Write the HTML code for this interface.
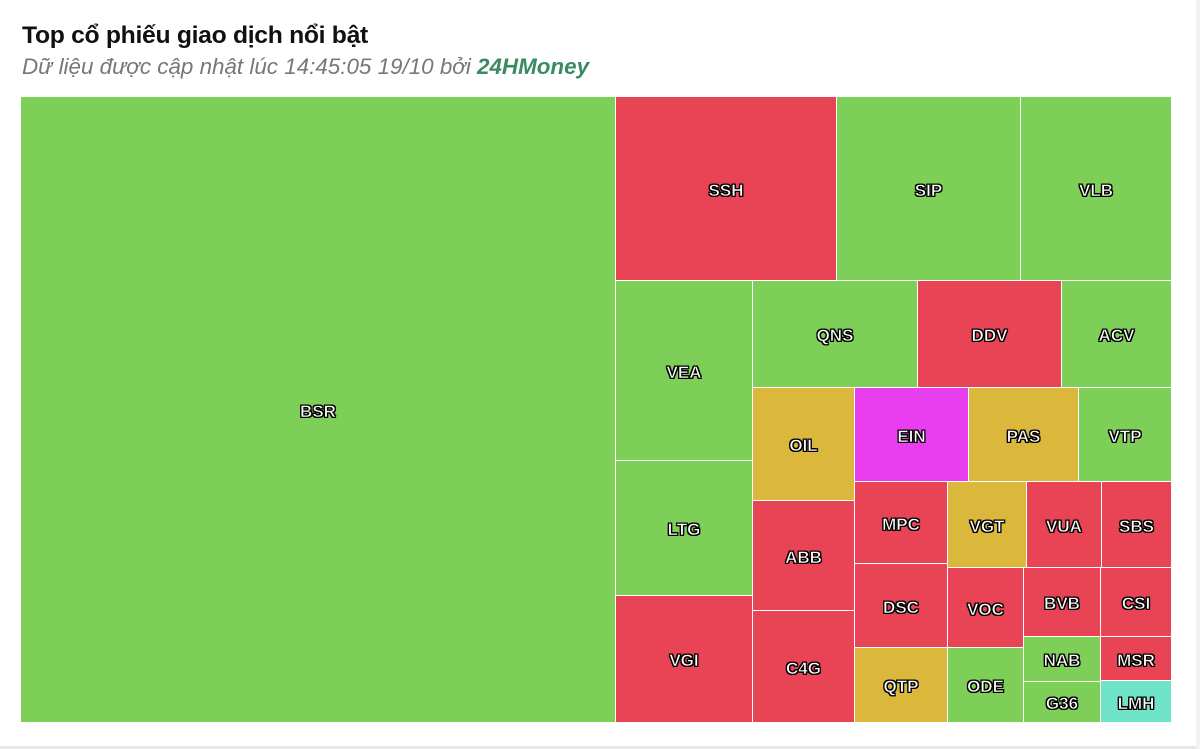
<!DOCTYPE html>
<html><head><meta charset="utf-8"><style>
body{margin:0;width:1200px;height:749px;background:#fff;position:relative;overflow:hidden;font-family:"Liberation Sans",sans-serif}
.t{position:absolute;left:22px;top:22px;font-size:24px;font-weight:bold;color:#111;letter-spacing:-0.3px;transform:scaleX(1.03);transform-origin:left;white-space:nowrap}
.s{position:absolute;left:22px;top:54px;font-size:22.4px;font-style:italic;color:#777;white-space:nowrap}
.s b{color:#3a8a63}
.c{position:absolute;display:flex;align-items:center;justify-content:center;color:#fff;font-weight:bold;font-size:17px;padding-top:4px;box-sizing:border-box;-webkit-text-stroke:0.6px #000;text-shadow:1px 1px 0 #000,-1px -1px 0 #000,1px -1px 0 #000,-1px 1px 0 #000}
.g{background:#7ecf58}.r{background:#e84455}.y{background:#dbb83c}.m{background:#e83ef0}.q{background:#6ee3c8}
.bd{position:absolute;left:0;top:746px;width:1200px;height:3px;background:#e8e8e8}
.br{position:absolute;left:1196px;top:0;width:4px;height:749px;background:#f2f2f2}
</style></head><body>
<div class="t">Top cổ phiếu giao dịch nổi bật</div>
<div class="s">Dữ liệu được cập nhật lúc 14:45:05 19/10 bởi <b>24HMoney</b></div>
<div id="tm"></div>
<div class="bd"></div><div class="br"></div>
<script>
var d=[
["BSR","g",21,97,615,722],
["SSH","r",616,97,836,280],["SIP","g",837,97,1020,280],["VLB","g",1021,97,1171,280],
["VEA","g",616,281,752,460],["LTG","g",616,461,752,595],["VGI","r",616,596,752,722],
["QNS","g",753,281,917,387],["DDV","r",918,281,1061,387],["ACV","g",1062,281,1171,387],
["OIL","y",753,388,854,500],["ABB","r",753,501,854,610],["C4G","r",753,611,854,722],
["EIN","m",855,388,968,481],["PAS","y",969,388,1078,481],["VTP","g",1079,388,1171,481],
["MPC","r",855,482,947,563],["DSC","r",855,564,947,647],["QTP","y",855,648,947,722],
["VGT","y",948,482,1026,567],["VUA","r",1027,482,1101,567],["SBS","r",1102,482,1171,567],
["VOC","r",948,568,1023,647],["ODE","g",948,648,1023,722],
["BVB","r",1024,568,1100,636],["CSI","r",1101,568,1171,636],
["NAB","g",1024,637,1100,681],["G36","g",1024,682,1100,722],
["MSR","r",1101,637,1171,680],["LMH","q",1101,681,1171,722]];
var h="";d.forEach(function(a){h+='<div class="c '+a[1]+'" style="left:'+a[2]+'px;top:'+a[3]+'px;width:'+(a[4]-a[2])+'px;height:'+(a[5]-a[3])+'px">'+a[0]+'</div>'});
document.getElementById("tm").innerHTML=h;
</script>
</body></html>
